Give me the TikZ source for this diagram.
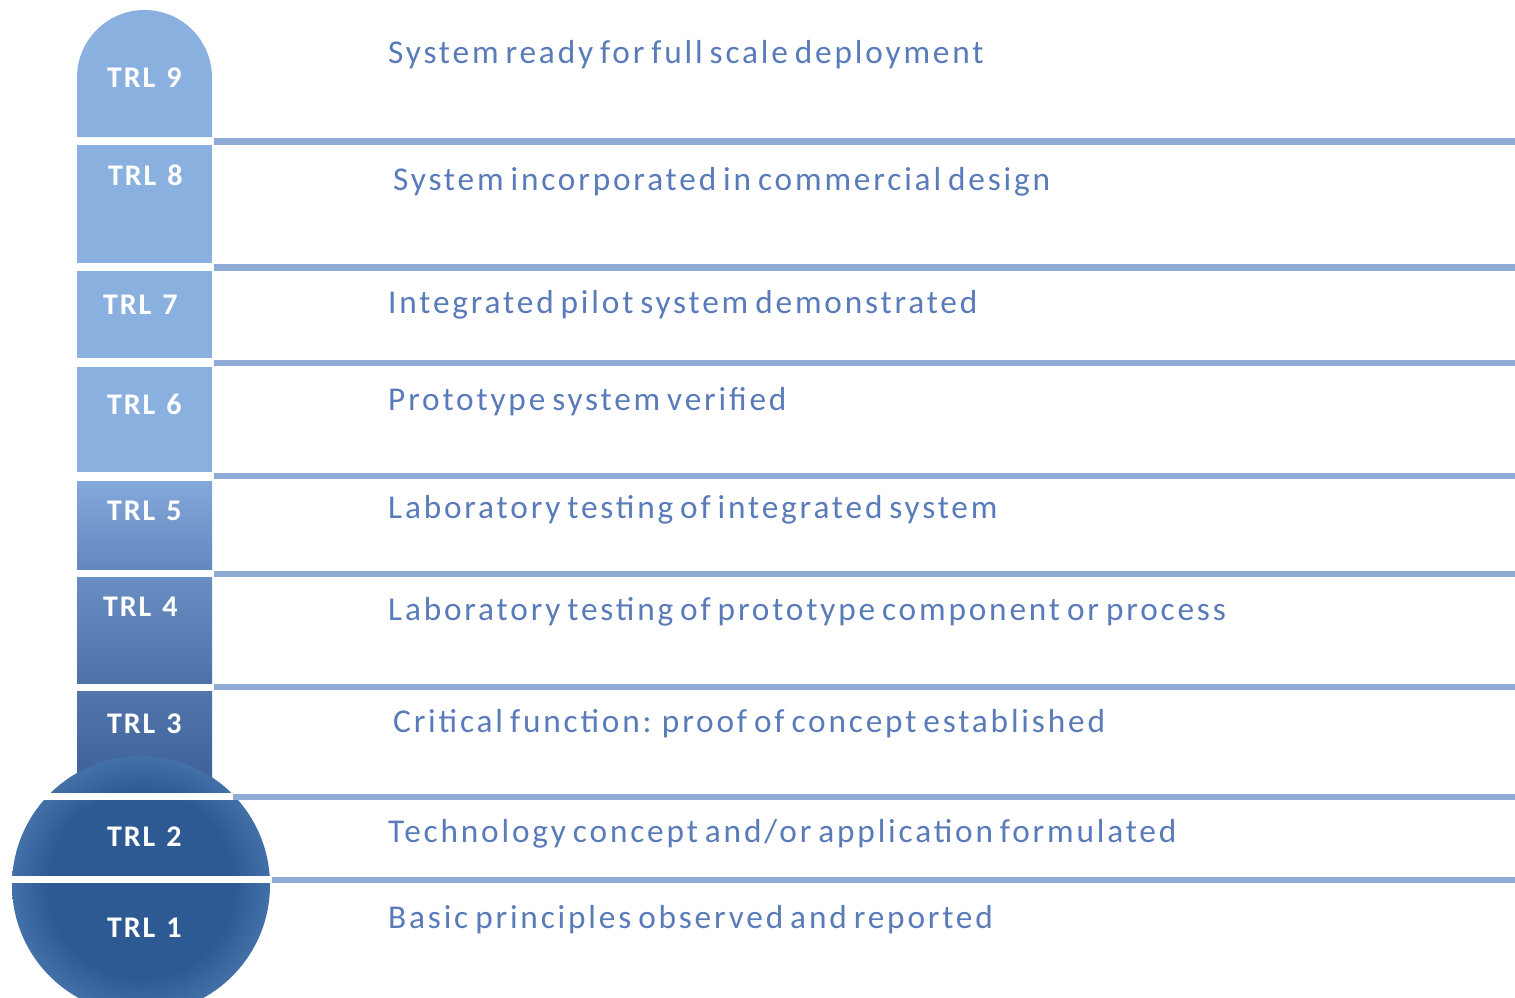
\documentclass[tikz,border=0pt]{standalone}
\usepackage{fontspec}
\setmainfont{Carlito}
\newfontfamily\descfont[LetterSpace=8.5,WordSpace=0.67]{Carlito}
\newfontfamily\labfont[LetterSpace=6,WordSpace=1.3]{Carlito}
\definecolor{txtblue}{RGB}{90,123,186}
\definecolor{sepblue}{RGB}{141,171,213}
\definecolor{lightblk}{RGB}{138,176,224}
\definecolor{cfivea}{RGB}{132,168,218}
\definecolor{cfiveb}{RGB}{100,136,190}
\definecolor{cfoura}{RGB}{106,142,194}
\definecolor{cfourb}{RGB}{78,114,168}
\definecolor{cthreea}{RGB}{82,118,172}
\definecolor{cthreeb}{RGB}{58,95,150}
\definecolor{bulbin}{RGB}{46,90,148}
\definecolor{bulbout}{RGB}{68,112,168}
\pgfdeclareradialshading{bulbshade}{\pgfpoint{0bp}{0bp}}{color(0bp)=(bulbin); color(18bp)=(bulbin); color(25bp)=(bulbout); color(50bp)=(bulbout)}
\tikzset{
  desc/.style={anchor=base west, inner sep=0pt, text=txtblue, font=\descfont\fontsize{33.3}{35}\selectfont},
  lab/.style={anchor=base west, inner sep=0pt, text=white, font=\labfont\bfseries\fontsize{30}{32}\selectfont},
  sepline/.style={draw=sepblue, line width=6.5pt},
  gapband/.style={fill=white}
}
\begin{document}
\begin{tikzpicture}[x=1pt,y=-1pt]
\useasboundingbox[fill=white] (0,0) rectangle (1515,997);
% thermometer column
\path[fill=lightblk] (77,137) -- (77,77.5) arc[start angle=180,end angle=360,radius=67.5] -- (212,137) -- cycle;
\path[fill=lightblk] (77,145) rectangle (212,263);
\path[fill=lightblk] (77,271) rectangle (212,358);
\path[fill=lightblk] (77,367) rectangle (212,472);
\path[top color=cfivea,bottom color=cfiveb] (77,481) rectangle (212,569);
\path[top color=cfoura,bottom color=cfourb] (77,577) rectangle (212,683);
\path[top color=cthreea,bottom color=cthreeb] (77,691) rectangle (212,793);
% bulb
\path[shading=bulbshade] (141,885) circle[radius=129];
\path[gapband] (0,793) rectangle (260,800);
\path[gapband] (0,876) rectangle (290,883);
% separator lines
\draw[sepline] (214,141.5) -- (1515,141.5);
\draw[sepline] (214,267.5) -- (1515,267.5);
\draw[sepline] (214,363) -- (1515,363);
\draw[sepline] (214,476) -- (1515,476);
\draw[sepline] (214,574) -- (1515,574);
\draw[sepline] (214,687) -- (1515,687);
\draw[sepline] (233,797) -- (1515,797);
\draw[sepline] (272,880) -- (1515,880);
% labels
\node[lab] (l9) at (107,87) {TRL 9};
\node[lab] (l8) at (108,185) {TRL 8};
\node[lab] (l7) at (103,314) {TRL 7};
\node[lab] (l6) at (107,414) {TRL 6};
\node[lab] (l5) at (107,520) {TRL 5};
\node[lab] (l4) at (103,616) {TRL 4};
\node[lab] (l3) at (107,733) {TRL 3};
\node[lab] (l2) at (107,846) {TRL 2};
\node[lab] (l1) at (107,937) {TRL 1};
% descriptions
\node[desc] (t9) at (388,63) {System ready for full scale deployment};
\node[desc] (t8) at (393,190) {System incorporated in commercial design};
\node[desc] (t7) at (388,313) {Integrated pilot system demonstrated};
\node[desc] (t6) at (388,410) {Prototype system verified};
\node[desc] (t5) at (388,518) {Laboratory testing of integrated system};
\node[desc] (t4) at (388,620) {Laboratory testing of prototype component or process};
\node[desc] (t3) at (393,732) {Critical function: proof of concept established};
\node[desc] (t2) at (388,842) {Technology concept and/or application formulated};
\node[desc] (t1) at (388,928) {Basic principles observed and reported};
\end{tikzpicture}
\end{document}
